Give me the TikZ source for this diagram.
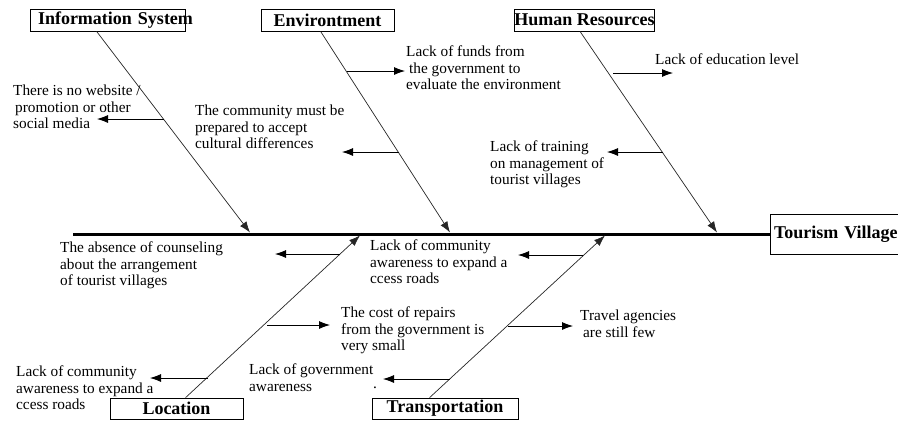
\documentclass[tikz,border=0pt]{standalone}
\usepackage{fontspec}
\setmainfont{Liberation Serif}
\usetikzlibrary{arrows.meta}
\begin{document}
\begin{tikzpicture}[x=1pt,y=-1pt,
  cat/.style={draw, line width=0.8pt, font=\fontsize{18}{20}\selectfont\bfseries, inner sep=0pt, minimum height=22pt},
  bone/.style={line width=0.7pt, draw=black!85, -{Latex[length=11pt,width=8pt]}},
  sub/.style={line width=0.8pt, -{Latex[length=11pt,width=8pt]}},
  lbl/.style={font=\fontsize{15.3}{16.5}\selectfont, align=left, inner sep=0pt, anchor=north west},
]
\useasboundingbox (0,0) rectangle (898,421);
\clip (0,0) rectangle (898,421);

% category boxes
\node[cat, inner xsep=8pt, text width=139pt, align=left] (infosys) at (107.5,20) {\hbox{Information System}};
\node[cat, minimum width=133pt] (env) at (327.5,20) {Environtment};
\node[cat, minimum width=133pt] (hr) at (584.5,20) {Human Resources};
\node[cat, minimum width=133pt, minimum height=21pt] (loc) at (176.5,408.5) {Location};
\node[cat, minimum width=146pt, minimum height=21pt] (trans) at (445,408.5) {Transportation};
\node[cat, minimum width=140pt, minimum height=40pt, text width=132pt, align=left] (tv) at (840,234) {Tourism Village};

% spine
\coordinate (spineL) at (73,234);
\draw[line width=3pt] (spineL) -- (tv.west);

% bone tips
\coordinate (isTip) at (250,232.5);
\coordinate (envTip) at (450,232.5);
\coordinate (hrTip) at (717,232.5);
\coordinate (locTip) at (360,235.5);
\coordinate (trTip) at (605,235.5);

\draw[bone] ([xshift=67pt]infosys.south west) -- (isTip);
\draw[bone] ([xshift=60pt]env.south west) -- (envTip);
\draw[bone] ([xshift=66pt]hr.south west) -- (hrTip);
\draw[bone] ([xshift=76pt]loc.north west) -- (locTip);
\draw[bone] ([xshift=58pt]trans.north west) -- (trTip);

% sub-cause arrows
\coordinate (is1a) at (164,119); \coordinate (is1b) at (97,119);
\coordinate (en1a) at (347,71);  \coordinate (en1b) at (405,71);
\coordinate (en2a) at (399,152); \coordinate (en2b) at (342,152);
\coordinate (hr1a) at (613,73);  \coordinate (hr1b) at (673,73);
\coordinate (hr2a) at (663,152); \coordinate (hr2b) at (607,152);
\coordinate (lo1a) at (340,254); \coordinate (lo1b) at (275,254);
\coordinate (lo2a) at (267,325); \coordinate (lo2b) at (330,325);
\coordinate (lo3a) at (208,378); \coordinate (lo3b) at (150,378);
\coordinate (tr1a) at (583,255); \coordinate (tr1b) at (518,255);
\coordinate (tr2a) at (508,326); \coordinate (tr2b) at (573,326);
\coordinate (tr3a) at (450,379); \coordinate (tr3b) at (383,379);

\foreach \s in {is1,en1,en2,hr1,hr2,lo1,lo2,lo3,tr1,tr2,tr3}
  \draw[sub] (\s a) -- (\s b);

% labels
\node[lbl] (t-is1) at (13,85) {There is no website /\\\hspace*{2pt}promotion or other\\social media};
\node[lbl] (t-en1) at (406,46) {Lack of funds from\\\hspace*{3pt}the government to\\evaluate the environment};
\node[lbl] (t-en2) at (195,105) {The community must be\\prepared to accept\\cultural differences};
\node[lbl] (t-hr1) at (655,54) {Lack of education level};
\node[lbl] (t-hr2) at (490,141) {Lack of training\\on management of\\tourist villages};
\node[lbl] (t-lo1) at (60,242) {The absence of counseling\\about the arrangement\\of tourist villages};
\node[lbl] (t-lo2) at (341,307) {The cost of repairs\\from the government is\\very small};
\node[lbl] (t-lo3) at (16,366) {Lack of community\\awareness to expand a\\ccess roads};
\node[lbl] (t-tr1) at (370,240) {Lack of community\\awareness to expand a\\ccess roads};
\node[lbl] (t-tr2) at (580,310) {Travel agencies\\\hspace*{3pt}are still few};
\node[lbl] (t-tr3) at (249,364) {Lack of government\\awareness};
\node[lbl, anchor=center] (t-dot) at (375,388) {.};
\end{tikzpicture}
\end{document}
